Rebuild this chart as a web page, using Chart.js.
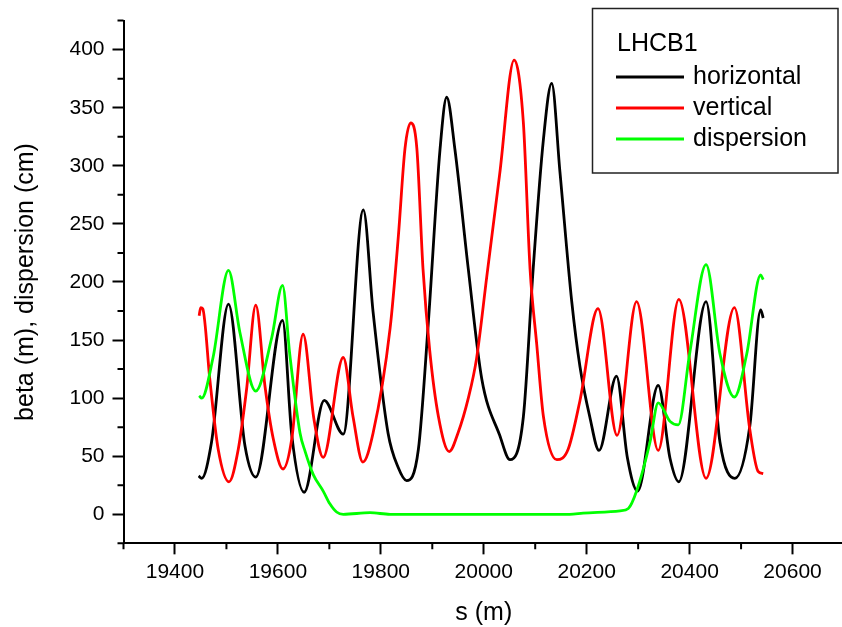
<!DOCTYPE html>
<html>
<head>
<meta charset="utf-8">
<script src="https://cdn.jsdelivr.net/npm/chart.js@4.4.0/dist/chart.umd.min.js"></script>
<style>
  html, body { margin: 0; padding: 0; background: #fff; overflow: hidden; }
</style>
</head>
<body>
<canvas id="chart" width="844" height="627"></canvas>
<script>
'use strict'

/* ------------------------------ Data ------------------------------ */

// horizontal beta (m)
const sH = [19446, 19452, 19471, 19504, 19536, 19557, 19609, 19627, 19651, 19690, 19727,
  19766, 19785, 19814, 19834, 19850, 19873, 19892, 19915, 19928, 19944, 19970, 19996,
  20031, 20051, 20077, 20096, 20116, 20132, 20148, 20171, 20187, 20206, 20224, 20258,
  20279, 20299, 20339, 20362, 20379, 20432, 20459, 20488, 20517, 20538, 20543]
const betaH = [33, 31, 62, 181, 59, 32, 167, 68, 19, 98, 69,
  262, 174, 70, 40, 29, 56, 163, 314, 359, 314, 211, 117,
  68, 47, 84, 211, 323, 371, 295, 183, 127, 84, 55, 119,
  49, 20, 111, 48, 28, 183, 62, 31, 76, 176, 169]

// vertical beta (m)
const sV = [19447, 19450, 19454, 19468, 19484, 19505, 19523, 19539, 19557, 19575, 19591,
  19610, 19627, 19649, 19670, 19688, 19727, 19746, 19765, 19785, 19818, 19834, 19847,
  19858, 19870, 19882, 19895, 19912, 19933, 19950, 19970, 19986, 20006, 20031, 20059, 20077,
  20090, 20103, 20116, 20142, 20164, 20187, 20222, 20259, 20297, 20339, 20379, 20432,
  20487, 20517, 20533, 20543]
const betaV = [171, 178, 177, 115, 56, 28, 56, 107, 180, 110, 65,
  39, 65, 155, 82, 49, 135, 84, 45, 70, 160, 239, 315,
  337, 315, 211, 141, 84, 54, 70, 100, 134, 205, 293, 391, 337,
  211, 146, 84, 47, 56, 98, 177, 68, 183, 55, 185, 31,
  178, 73, 37, 35]

// dispersion (cm)
const sD = [19447, 19452, 19474, 19504, 19526, 19557, 19588, 19609, 19623, 19643, 19653,
  19669, 19688, 19701, 19714, 19727, 19779, 19818, 20167, 20193, 20265, 20281, 20297,
  20323, 20339, 20362, 20378, 20400, 20432, 20459, 20487, 20511, 20538, 20543]
const dispD = [102, 100, 135, 210, 157, 106, 152, 197, 138, 70, 54,
  34, 20, 9, 2, 0, 1.4, 0, 0, 1, 3, 5, 20,
  62, 96, 80, 77, 138, 215, 138, 101, 138, 206, 202]

const xTicks = [19400, 19600, 19800, 20000, 20200, 20400, 20600]
const xMinor = [19300, 19500, 19700, 19900, 20100, 20300, 20500, 20700]
const yTicks = [0, 50, 100, 150, 200, 250, 300, 350, 400]
const yMinor = [-25, 25, 75, 125, 175, 225, 275, 325, 375, 425]

const legendTitle = 'LHCB1'

/* ------------------------------ Helpers ------------------------------ */

const FONT = "'Liberation Sans', Arial, sans-serif"

function toPoints (xs, ys) {
  return xs.map((x, i) => ({ x: x, y: ys[i] }))
}

function lineSet (label, xs, ys, color, order) {
  return {
    label: label,
    data: toPoints(xs, ys),
    borderColor: color,
    backgroundColor: color,
    borderWidth: 2.8,
    pointRadius: 0,
    cubicInterpolationMode: 'monotone',
    fill: false,
    order: order
  }
}

// minor ticks + boxed legend
const extras = {
  id: 'extras',
  afterDraw (chart) {
    const { ctx, chartArea } = chart
    const x = chart.scales.x
    const y = chart.scales.y
    ctx.save()
    ctx.strokeStyle = '#000'
    ctx.lineWidth = 2
    ctx.beginPath()
    xMinor.forEach(v => {
      const px = x.getPixelForValue(v)
      ctx.moveTo(px, chartArea.bottom)
      ctx.lineTo(px, chartArea.bottom + 6)
    })
    yMinor.forEach(v => {
      const py = y.getPixelForValue(v)
      ctx.moveTo(chartArea.left, py)
      ctx.lineTo(chartArea.left - 6, py)
    })
    ctx.stroke()

    // legend box
    ctx.lineWidth = 1.5
    ctx.strokeStyle = '#222'
    ctx.strokeRect(592.5, 8.5, 245.5, 164.5)
    ctx.fillStyle = '#000'
    ctx.font = '25px ' + FONT
    ctx.textBaseline = 'alphabetic'
    ctx.textAlign = 'left'
    ctx.fillText(legendTitle, 617, 51)
    chart.data.datasets.forEach((ds, i) => {
      const base = 84 + i * 31
      ctx.strokeStyle = ds.borderColor
      ctx.lineWidth = 3
      ctx.beginPath()
      ctx.moveTo(616, base - 7)
      ctx.lineTo(684, base - 7)
      ctx.stroke()
      ctx.fillText(ds.label, 693, base)
    })
    ctx.restore()
  }
}

/* ------------------------------ Chart ------------------------------ */

Chart.defaults.color = '#000'
Chart.defaults.font.family = FONT

const ctx = document.getElementById('chart').getContext('2d')

new Chart(ctx, {
  type: 'line',
  data: {
    datasets: [
      lineSet('horizontal', sH, betaH, '#000000', 2),
      lineSet('vertical', sV, betaV, '#ff0000', 1),
      lineSet('dispersion', sD, dispD, '#00ff00', 0)
    ]
  },
  options: {
    responsive: false,
    animation: false,
    layout: { padding: { top: 9.65, right: 0, bottom: 0, left: 0 } },
    plugins: {
      legend: { display: false },
      tooltip: { enabled: false }
    },
    scales: {
      x: {
        type: 'linear',
        min: 19300,
        max: 20700,
        afterBuildTicks: scale => { scale.ticks = xTicks.map(v => ({ value: v })) },
        afterFit: scale => { scale.height = 83.65 },
        ticks: {
          callback: v => String(v),
          font: { size: 21 },
          padding: 5,
          maxRotation: 0
        },
        grid: {
          drawOnChartArea: false,
          drawTicks: true,
          tickLength: 11,
          tickWidth: 2,
          tickColor: '#000'
        },
        border: { display: true, color: '#000', width: 2 },
        title: {
          display: true,
          text: 's (m)',
          font: { size: 25, lineHeight: 1 },
          padding: { top: 0, bottom: 1.5 }
        }
      },
      y: {
        type: 'linear',
        min: -25,
        max: 425,
        afterBuildTicks: scale => { scale.ticks = yTicks.map(v => ({ value: v })) },
        afterFit: scale => { scale.width = 123.5 },
        ticks: {
          callback: v => String(v),
          font: { size: 21 },
          padding: 8
        },
        grid: {
          drawOnChartArea: false,
          drawTicks: true,
          tickLength: 11,
          tickWidth: 2,
          tickColor: '#000'
        },
        border: { display: true, color: '#000', width: 2 },
        title: {
          display: true,
          text: 'beta (m), dispersion (cm)',
          font: { size: 25, lineHeight: 1 },
          padding: { top: 13.5, bottom: 0 }
        }
      }
    }
  },
  plugins: [extras]
})
</script>
</body>
</html>
